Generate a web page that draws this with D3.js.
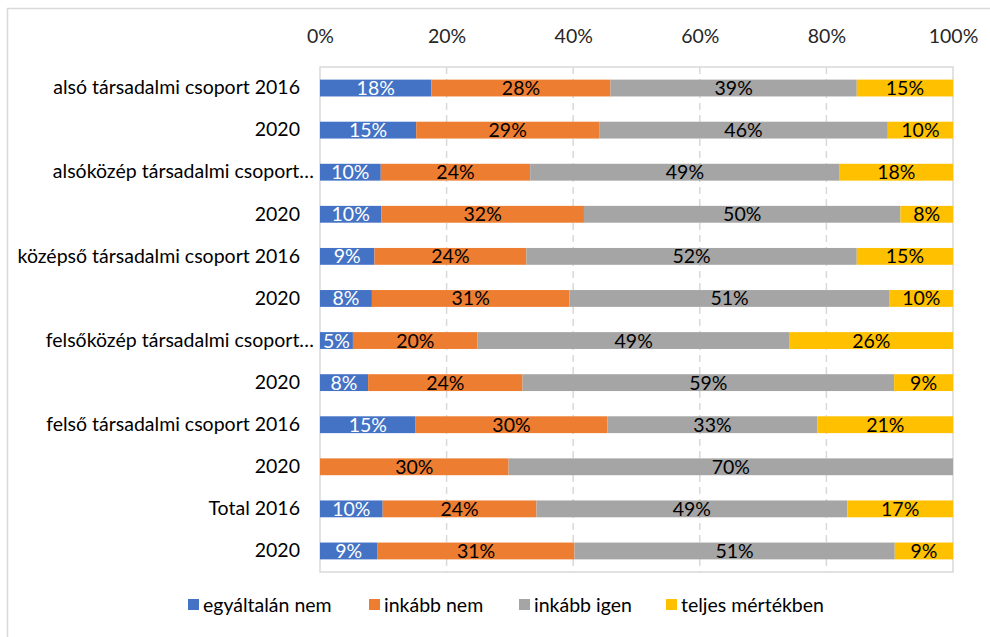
<!DOCTYPE html>
<html><head><meta charset="utf-8">
<script src="https://cdn.jsdelivr.net/npm/d3@7"></script>
<style>body{margin:0;background:#fff;} text{font-family:Lato,"Noto Sans",sans-serif;}</style>
</head><body><svg id="c" width="990" height="637"></svg>
<script>
const categories = ["alsó társadalmi csoport 2016","2020","alsóközép társadalmi csoport…","2020","középső társadalmi csoport 2016","2020","felsőközép társadalmi csoport…","2020","felső társadalmi csoport 2016","2020","Total 2016","2020"];
const seriesNames = ["egyáltalán nem","inkább nem","inkább igen","teljes mértékben"];
const egyaltalanNem = [17.6,15.2,9.6,9.7,8.6,8.2,5.2,7.6,15.1,0,9.9,9.1];
const inkabbNem     = [28.3,28.9,23.6,32.0,24.0,31.2,19.7,24.4,30.3,29.8,24.3,31.1];
const inkabbIgen    = [38.9,45.6,48.9,50.0,52.2,50.6,49.3,58.7,33.2,70.2,49.1,50.6];
const teljesen      = [15.2,10.3,17.9,8.3,15.2,10.0,25.8,9.3,21.4,0,16.7,9.2];
const xTicks = [0,20,40,60,80,100];
const colors = ["#4472C4","#ED7D31","#A5A5A5","#FFC000"];
const labelColors = ["#ffffff","#000000","#000000","#000000"];
const FS = 19.5;

const series = [egyaltalanNem,inkabbNem,inkabbIgen,teljesen];
const rows = categories.map((c,i)=>{const o={cat:c,idx:i}; seriesNames.forEach((s,j)=>o[s]=series[j][i]); return o;});
const stack = d3.stack().keys(seriesNames)(rows);

const svg = d3.select("#c");
// outer frame
svg.append("path").attr("d","M7.5,640 V8.5 H995").attr("fill","none").attr("stroke","#D9D9D9").attr("stroke-width",1.5);

const m = {left:320, right:953, top:67, bottom:572};
const x = d3.scaleLinear().domain([0,100]).range([m.left,m.right]);
const y = d3.scaleBand().domain(d3.range(categories.length)).range([m.top,m.bottom]).paddingInner(0.6).paddingOuter(0.3);

// gridlines
svg.append("g").selectAll("line").data(xTicks.filter(t=>t>0&&t<100)).join("line")
  .attr("x1",d=>x(d)).attr("x2",d=>x(d)).attr("y1",m.top).attr("y2",m.bottom)
  .attr("stroke","#D9D9D9").attr("stroke-width",1.5).attr("stroke-dasharray","7,5");
// plot border
svg.append("rect").attr("x",m.left).attr("y",m.top).attr("width",m.right-m.left).attr("height",m.bottom-m.top)
  .attr("fill","none").attr("stroke","#D9D9D9").attr("stroke-width",1.5);

// top axis
const ax = svg.append("g").attr("transform",`translate(0,${m.top-24})`)
  .call(d3.axisTop(x).tickValues(xTicks).tickFormat(d=>d+"%").tickSize(0).tickPadding(0));
ax.select(".domain").remove();
ax.selectAll("text").attr("font-size",FS).attr("fill","#262626").attr("font-family","Lato,'Noto Sans',sans-serif");

// bars
const g = svg.append("g");
stack.forEach((layer,j)=>{
  const lg = g.append("g");
  lg.selectAll("rect").data(layer).join("rect")
    .attr("x",d=>x(d[0])).attr("width",d=>x(d[1])-x(d[0]))
    .attr("y",(d,i)=>y(i)).attr("height",y.bandwidth())
    .attr("fill",colors[j]);
  lg.selectAll("text").data(layer.filter(d=>d[1]-d[0]>0)).join("text")
    .attr("x",d=>(x(d[0])+x(d[1]))/2).attr("y",d=>y(d.data.idx)+y.bandwidth()/2)
    .attr("dy","0.36em").attr("text-anchor","middle").attr("font-size",FS)
    .attr("fill",labelColors[j]).text(d=>Math.round(d[1]-d[0])+"%");
});

// category labels
const yl = svg.append("g").attr("transform",`translate(${m.left-20},0)`)
  .call(d3.axisLeft(y).tickFormat(i=>categories[i]).tickSize(0).tickPadding(0));
yl.select(".domain").remove();
yl.selectAll("text").attr("font-size",FS).attr("fill","#000").attr("font-family","Lato,'Noto Sans',sans-serif")
  .attr("dx",i=>categories[i].endsWith("…")?14:0);

// legend
const legendX = [188,369,519,666];
const lgd = svg.append("g");
seriesNames.forEach((s,j)=>{
  lgd.append("rect").attr("x",legendX[j]).attr("y",599).attr("width",11).attr("height",11).attr("fill",colors[j]);
  lgd.append("text").attr("x",legendX[j]+15).attr("y",605).attr("dy","0.36em").attr("font-size",FS).attr("fill","#000").text(s);
});
</script></body></html>
